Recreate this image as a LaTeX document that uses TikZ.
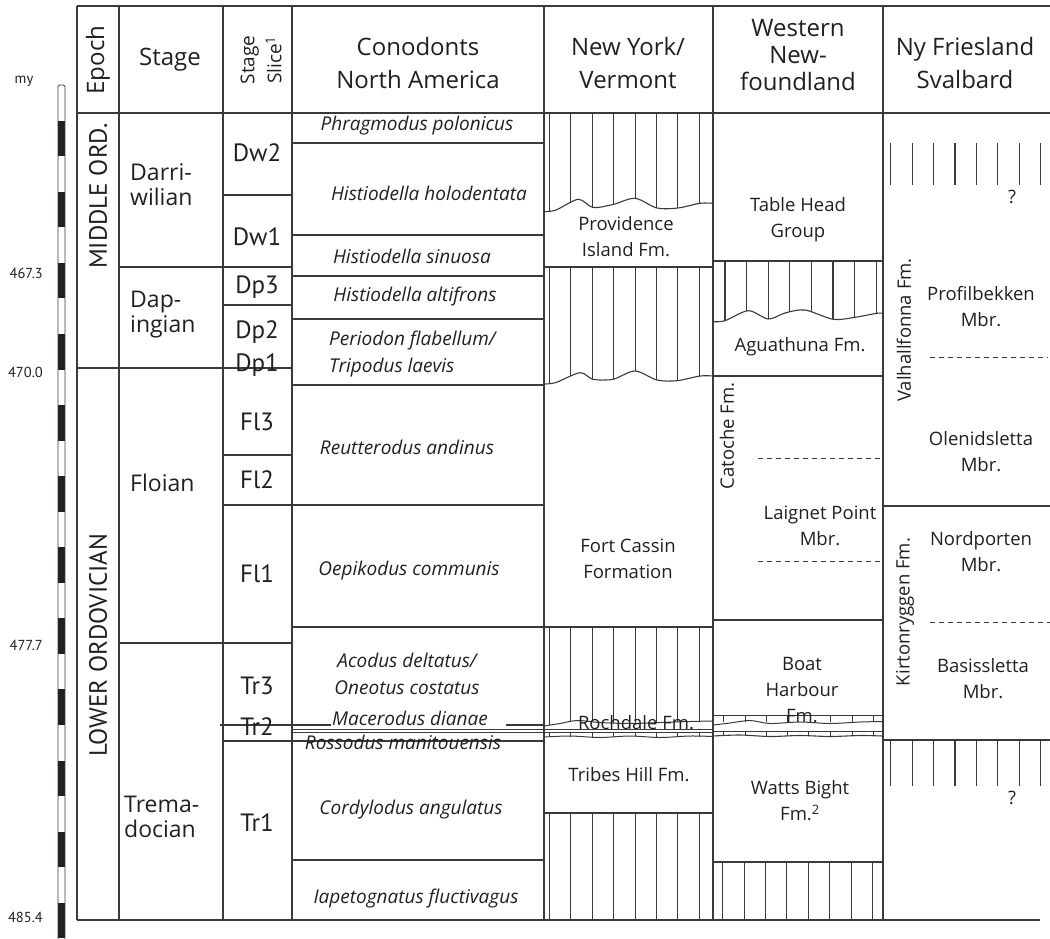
\documentclass[tikz,border=0pt]{standalone}
\usepackage{fontspec}
\setmainfont{Open Sans}
\newfontfamily\pts{PT Sans}
\definecolor{lc}{HTML}{3A3A3A}
\definecolor{tc}{HTML}{231F20}
\begin{document}
\begin{tikzpicture}[x=1pt,y=-1pt,
  every node/.style={text=tc, inner sep=0pt, align=center},
  grid/.style={draw=lc, line width=1.1pt},
  thin/.style={draw=lc, line width=1pt},
  dsh/.style={draw=lc, line width=1pt, dash pattern=on 5pt off 4pt},
  hdr/.style={font=\fontsize{24}{33}\selectfont},
  hdrb/.style={font=\fontsize{24}{27}\selectfont},
  cono/.style={font=\fontsize{19}{27}\selectfont\itshape},
  fm/.style={font=\fontsize{18.5}{26}\selectfont},
  slice/.style={font=\pts\fontsize{25}{26}\selectfont},
  stg/.style={font=\fontsize{23}{25}\selectfont},
  epo/.style={font=\pts\fontsize{25}{28}\selectfont, rotate=90},
  sc/.style={font=\pts\fontsize{14.5}{16}\selectfont, anchor=east},
]
\useasboundingbox (0,0) rectangle (1050,938);

% ---------- time scale ----------
\foreach \m in {463,465,...,485}
  \fill[tc] (58,{369.5+(\m-470)*35.55}) rectangle (65,{369.5+(\m+1-470)*35.55});
\draw[draw=lc, line width=0.8pt, rounded corners=1.5pt] (58,939) -- (58,85) -- (65,85) -- (65,939);
\node[font=\pts\fontsize{14.5}{16}\selectfont] (my) at (24,81) {my};
\node[sc] (t1) at (43,273) {467.3};
\node[sc] (t2) at (43,372) {470.0};
\node[sc] (t3) at (43,645) {477.7};
\node[sc] (t4) at (43,917) {485.4};

% ---------- frame ----------
\draw[grid] (77,6) -- (1050,6);
\draw[grid] (77,113) -- (1050,113);
\draw[grid] (77,920) -- (1040,920);
\foreach \xx in {77,119,223,292,544,713,883} \draw[grid] (\xx,6) -- (\xx,920);

% epoch / stage / slice boundaries
\draw[grid] (77,368) -- (292,368);
\draw[grid] (119,267) -- (292,267);
\draw[grid] (119,643) -- (292,643);
\foreach \yy in {195,305,455,505} \draw[grid] (223,\yy) -- (292,\yy);
\draw[grid] (220,725) -- (292,725);
\draw[grid] (223,741) -- (544,741);

% conodont boundaries
\foreach \yy in {143,235,276,319,385,505,627,860} \draw[grid] (292,\yy) -- (544,\yy);
\draw[grid] (292,725) -- (331,725);
\draw[grid] (506,725) -- (544,725);
\draw[grid] (292,729.5) -- (713,729.5);
\draw[grid] (292,732.5) -- (713,732.5);

% ---------- New York / Vermont ----------
\begin{scope}
  \clip (544,113) -- (713,113) -- plot[smooth] coordinates {(713,203.3) (700,203.3) (678,208) (657,208) (635,198.3) (613,204.5) (593,207.5) (578.3,199.3) (556,210) (544,211.7)} -- cycle;
  \foreach \i in {0,...,7} \draw[grid] ({549.5+21.4*\i},113) -- ({549.5+21.4*\i},215);
\end{scope}
\draw[grid] plot[smooth] coordinates {(544,211.7) (556,210) (578.3,199.3) (593,207.5) (613,204.5) (635,198.3) (657,208) (678,208) (700,203.3) (713,203.3)};
\draw[grid] (544,267) -- (713,267);
\begin{scope}
  \clip (544,267) -- (713,267) -- plot[smooth] coordinates {(713,376) (700,376) (677,380.7) (657,380) (635,371) (613,379.3) (593,379.3) (580,372.7) (556,382.5) (544,384)} -- cycle;
  \foreach \i in {0,...,7} \draw[grid] ({549.5+21.4*\i},267) -- ({549.5+21.4*\i},388);
\end{scope}
\draw[grid] plot[smooth] coordinates {(544,384) (556,382.5) (580,372.7) (593,379.3) (613,379.3) (635,371) (657,380) (677,380.7) (700,376) (713,376)};
\draw[grid] (544,627) -- (713,627);
\begin{scope}
  \clip (544,627) -- (713,627) -- (713,721) -- plot[smooth] coordinates {(713,721) (690,721.5) (660,722.5) (630,723.5) (600,722.5) (577,720.5) (560,723.5) (544,726)} -- cycle;
  \foreach \i in {0,...,7} \draw[grid] ({549.5+21.4*\i},627) -- ({549.5+21.4*\i},728);
\end{scope}
\draw[thin] plot[smooth] coordinates {(544,726) (560,723.5) (577,720.5) (600,722.5) (630,723.5) (660,722.5) (690,721.5) (713,721)};
\foreach \i in {0,...,7} \draw[thin] ({549.5+21.4*\i},732.5) -- ({549.5+21.4*\i},736.5);
\draw[thin] plot[smooth] coordinates {(544,737) (570,736) (600,737.5) (630,736) (660,737.5) (690,736) (713,736.5)};
\draw[grid] (544,813) -- (713,813);
\foreach \i in {0,...,7} \draw[grid] ({549.5+21.4*\i},813) -- ({549.5+21.4*\i},920);

% ---------- Western Newfoundland ----------
\draw[grid] (713,261) -- (883,261);
\begin{scope}
  \clip (713,261) -- (883,261) -- plot[smooth] coordinates {(883,313.3) (876.7,313.3) (855,317.3) (833.3,319.3) (805,310) (785,313) (768.3,319) (748.3,310.7) (725,320.7) (713,321.7)} -- cycle;
  \foreach \i in {0,...,7} \draw[grid] ({725+21.6*\i},261) -- ({725+21.6*\i},325);
\end{scope}
\draw[grid] plot[smooth] coordinates {(713,321.7) (725,320.7) (748.3,310.7) (768.3,319) (785,313) (805,310) (833.3,319.3) (855,317.3) (876.7,313.3) (883,313.3)};
\draw[grid] (713,376) -- (883,376);
\draw[dsh] (758,458) -- (883,458);
\draw[dsh] (758,561) -- (883,561);
\draw[grid] (713,620) -- (883,620);
\draw[thin] (713,715) -- (883,715);
\foreach \xx in {723,745,766,787,830,852,873} \draw[thin] (\xx,715) -- (\xx,722);
\draw[thin] plot[smooth] coordinates {(713,725) (730,723) (750,720.5) (770,723.5) (800,722) (830,723.5) (860,722) (883,721.5)};
\draw[thin] (713,731.5) -- (883,731.5);
\foreach \xx in {723,745,766,787,808,830,852,873} \draw[thin] (\xx,731.5) -- (\xx,735.5);
\draw[grid] plot[smooth] coordinates {(713,736) (740,735) (770,736.5) (800,735.5) (830,736.5) (860,735.5) (883,736)};
\draw[grid] (713,862) -- (883,862);
\foreach \i in {0,...,7} \draw[grid] ({722.7+21.4*\i},862) -- ({722.7+21.4*\i},920);

% ---------- Ny Friesland ----------
\foreach \i in {0,...,7} \draw[grid] ({890.7+21.43*\i},143) -- ({890.7+21.43*\i},185);
\draw[grid] (883,506) -- (1050,506);
\draw[dsh] (930,357) -- (1048,357);
\draw[dsh] (930,622.5) -- (1050,622.5);
\draw[grid] (883,740) -- (1050,740);
\foreach \i in {0,...,7} \draw[grid] ({890.7+21.43*\i},740) -- ({890.7+21.43*\i},786);

% ---------- header texts ----------
\node[hdr, rotate=90] (hEpoch) at (98,60) {Epoch};
\node[hdr] (hStage) at (170,60) {Stage};
\node[font=\fontsize{19}{27}\selectfont, rotate=90] (hSlice) at (261,60) {Stage\\Slice\textsuperscript{1}};
\node[hdr] (hCono) at (418,63) {Conodonts\\North America};
\node[hdr] (hNY) at (628,63) {New York/\\Vermont};
\node[hdrb] (hWN) at (798,55) {Western\\New-\\foundland};
\node[hdr] (hNF) at (965,63) {Ny Friesland\\Svalbard};

% epochs
\node[epo] (eMid) at (98,196) {MIDDLE ORD.};
\node[epo] (eLow) at (98,645) {LOWER ORDOVICIAN};

% stages
\node[stg, align=left, anchor=west] (sDarri) at (130,185) {Darri-\\wilian};
\node[stg, align=left, anchor=west] (sDap) at (130,315) {Dap-\\ingian};
\node[stg, align=left, anchor=west] (sFlo) at (130,483) {Floian};
\node[stg, align=left, anchor=west] (sTrem) at (124,817) {Trema-\\docian};

% stage slices
\node[slice] (Dw2) at (257,153) {Dw2};
\node[slice] (Dw1) at (257,237) {Dw1};
\node[slice] (Dp3) at (257,287) {Dp3};
\node[slice] (Dp2) at (257,332) {Dp2};
\node[slice] (Dp1) at (257,365) {Dp1};
\node[slice] (Fl3) at (257,422) {Fl3};
\node[slice] (Fl2) at (257,480) {Fl2};
\node[slice] (Fl1) at (257,574) {Fl1};
\node[slice] (Tr3) at (257,686) {Tr3};
\node[slice] (Tr2) at (257,727) {Tr2};
\node[slice] (Tr1) at (257,823) {Tr1};

% conodonts
\node[cono] (c1) at (417,126) {Phragmodus polonicus};
\node[cono] (c2) at (429,193) {Histiodella holodentata};
\node[cono] (c3) at (412,256) {Histiodella sinuosa};
\node[cono] (c4) at (415,297) {Histiodella altifrons};
\node[cono, align=left, anchor=west] (c5) at (329,353.5) {Periodon flabellum/\\Tripodus laevis};
\node[cono] (c6) at (407,447) {Reutterodus andinus};
\node[cono] (c7) at (409,571) {Oepikodus communis};
\node[cono] (c8) at (407,673.5) {Acodus deltatus/\\Oneotus costatus};
\node[cono] (c9) at (410,718) {Macerodus dianae};
\node[cono] (c10) at (403,742) {Rossodus manitouensis};
\node[cono] (c11) at (411,810) {Cordylodus angulatus};
\node[cono] (c12) at (416,899) {Iapetognatus fluctivagus};

% New York formations
\node[fm] (fProv) at (626,236.5) {Providence\\Island Fm.};
\node[fm] (fFC) at (628,558.5) {Fort Cassin\\Formation};
\node[fm] (fRoch) at (636,723) {Rochdale Fm.};
\node[fm] (fTH) at (629,775) {Tribes Hill Fm.};

% Newfoundland formations
\node[fm] (fTHG) at (798,219.5) {Table Head\\Group};
\node[fm] (fAgu) at (800,347) {Aguathuna Fm.};
\node[fm, rotate=90] (fCat) at (727,436) {Catoche Fm.};
\node[fm] (fLai) at (820,525.5) {Laignet Point\\Mbr.};
\node[fm] (fBH) at (802,690) {Boat\\Harbour\\Fm.};
\node[fm] (fWB) at (800,801) {Watts Bight\\Fm.\textsuperscript{2}};

% Ny Friesland
\node[fm] (q1) at (1012,197) {?};
\node[fm, rotate=90] (fVal) at (904,330) {Valhallfonna Fm.};
\node[fm] (fPro) at (981,307) {Profilbekken\\Mbr.};
\node[fm] (fOle) at (981,451.5) {Olenidsletta\\Mbr.};
\node[fm, rotate=90] (fKir) at (905,612) {Kirtonryggen Fm.};
\node[fm] (fNor) at (981,551.5) {Nordporten\\Mbr.};
\node[fm] (fBas) at (983,679) {Basissletta\\Mbr.};
\node[fm] (q2) at (1012,798) {?};
\end{tikzpicture}
\end{document}
